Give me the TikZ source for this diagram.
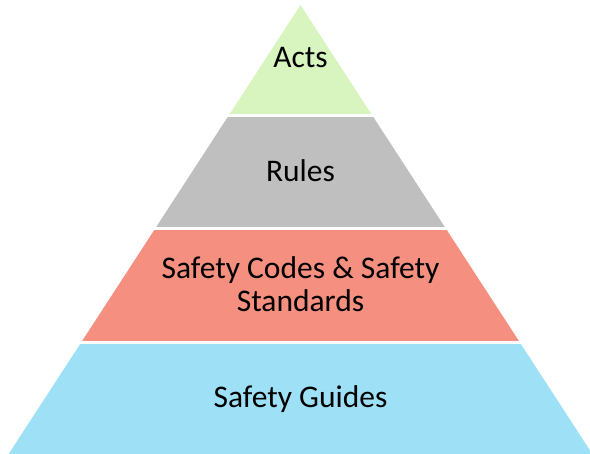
\documentclass[tikz,border=0pt]{standalone}
\usepackage{fontspec}
\setmainfont{Carlito}

\definecolor{actsgreen}{RGB}{217,245,191}
\definecolor{rulesgray}{RGB}{191,191,191}
\definecolor{codessalmon}{RGB}{245,143,127}
\definecolor{guidesblue}{RGB}{158,224,246}

\begin{document}
\begin{tikzpicture}[x=1pt,y=-1pt]
	\tikzstyle{every node}=[inner sep=0pt,font=\fontsize{31.5}{33}\selectfont]
	\tikzstyle{gap}=[draw=white,line width=3pt]
	\useasboundingbox (0,0) rectangle (590,454);
	\clip (0,0) rectangle (590,454);
	% layers of the pyramid, apex at (300.5,5)
	\fill[actsgreen] (300.5,5) -- (228.7,115.5) -- (372.3,115.5) -- cycle;
	\foreach \t/\b/\c in {115.5/228.5/rulesgray,228.5/342.5/codessalmon,342.5/454/guidesblue}
	{
		\fill[\c] ({300.5-0.65*(\t-5)},\t) -- ({300.5+0.65*(\t-5)},\t)
			-- ({300.5+0.65*(\b-5)},\b) -- ({300.5-0.65*(\b-5)},\b) -- cycle;
	}
	% white gaps between the layers
	\foreach \g in {115.5,228.5,342.5}
		\draw[gap] (0,\g) -- (590,\g);
	\node[anchor=base] (acts) at (300.5,68) {Acts};
	\node[anchor=base] (rules) at (300.5,182) {Rules};
	\node[align=center] (codes) at (300.5,284) {Safety Codes \& Safety\\Standards};
	\node[anchor=base] (guides) at (300.5,408) {Safety Guides};
\end{tikzpicture}
\end{document}
